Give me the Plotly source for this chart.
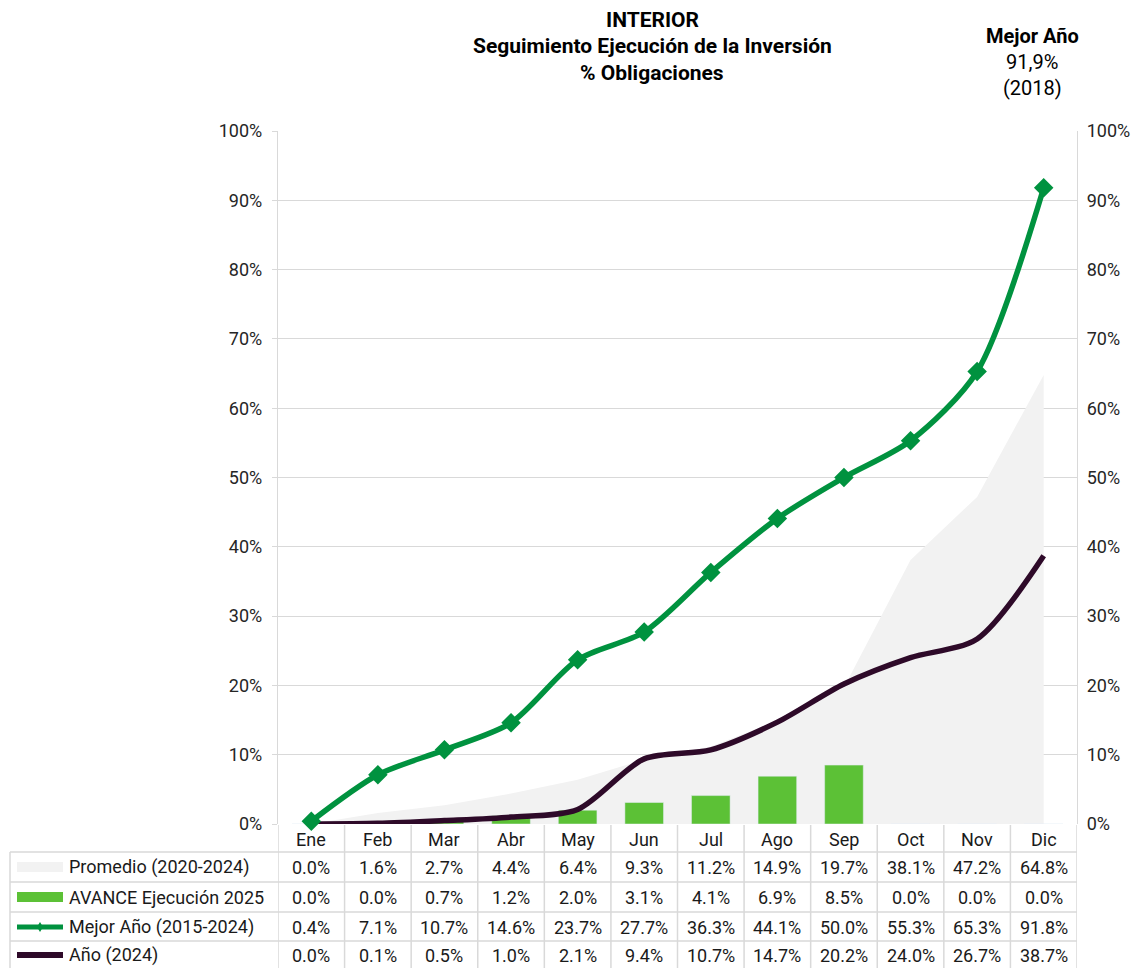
import plotly.graph_objects as go

months = ["Ene", "Feb", "Mar", "Abr", "May", "Jun", "Jul", "Ago", "Sep", "Oct", "Nov", "Dic"]
promedio = [0.0, 1.6, 2.7, 4.4, 6.4, 9.3, 11.2, 14.9, 19.7, 38.1, 47.2, 64.8]
avance = [0.0, 0.0, 0.7, 1.2, 2.0, 3.1, 4.1, 6.9, 8.5, 0.0, 0.0, 0.0]
mejor = [0.4, 7.1, 10.7, 14.6, 23.7, 27.7, 36.3, 44.1, 50.0, 55.3, 65.3, 91.8]
anio = [0.0, 0.1, 0.5, 1.0, 2.1, 9.4, 10.7, 14.7, 20.2, 24.0, 26.7, 38.7]
series_names = ["Promedio (2020-2024)", "AVANCE Ejecución 2025", "Mejor Año (2015-2024)", "Año (2024)"]
y_ticks = [0, 10, 20, 30, 40, 50, 60, 70, 80, 90, 100]

# page has an 8px body margin; keep the figure inside the window
OFF = 8
W, H = 1142 - 2 * OFF, 976 - 2 * OFF
L, R, T, B = 278, 1077, 131, 824   # plot area in page pixels
C_GRID = "#d9d9d9"
C_AREA = "#f2f2f2"
C_BAR = "#5cc136"
C_GREEN = "#00923f"
C_DARK = "#2e0a29"
FONT = "Roboto"

def px_x(p):
    return (p - L) / (R - L)

def px_y(p):
    return (B - p) / (B - T)

x = list(range(12))

fig = go.Figure()
fig.add_trace(go.Scatter(x=x, y=promedio, mode="lines", fill="tozeroy",
                         line=dict(width=0, color=C_AREA), fillcolor=C_AREA,
                         name=series_names[0], hoverinfo="skip"))
fig.add_trace(go.Bar(x=x, y=avance, marker_color=C_BAR, width=0.58, name=series_names[1], yaxis="y3"))
fig.add_trace(go.Scatter(x=x, y=anio, mode="lines", yaxis="y3",
                         line=dict(color=C_DARK, width=5.5, shape="spline", smoothing=0.8),
                         name=series_names[3], cliponaxis=False))
fig.add_trace(go.Scatter(x=x, y=mejor, mode="lines+markers", yaxis="y3",
                         line=dict(color=C_GREEN, width=5.5, shape="spline", smoothing=0.8),
                         marker=dict(symbol="diamond", size=15, color=C_GREEN),
                         name=series_names[2], cliponaxis=False))
# invisible trace for right axis
fig.add_trace(go.Scatter(x=[0], y=[0], yaxis="y2", mode="markers", marker=dict(opacity=0),
                         showlegend=False, hoverinfo="skip"))

tickfont = dict(family=FONT, size=18, color="#262626")
fig.update_layout(
    width=W, height=H,
    margin=dict(l=L - OFF, r=W - (R - OFF), t=T - OFF, b=H - (B - OFF)),
    plot_bgcolor="white", paper_bgcolor="white",
    showlegend=False,
    xaxis=dict(range=[-0.5, 11.5], showticklabels=False, showgrid=False, zeroline=False,
               tickvals=x, ticks="", automargin=False),
    yaxis=dict(range=[0, 100], tickvals=y_ticks, ticktext=[f"{v}%" for v in y_ticks],
               showgrid=True, gridcolor=C_GRID, gridwidth=1.3, zeroline=False,
               showline=True, linecolor=C_GRID, linewidth=1.3,
               ticks="outside", ticklen=5, tickcolor=C_GRID, tickfont=tickfont,
               ticklabelstandoff=6, automargin=False),
    yaxis2=dict(range=[0, 100], overlaying="y", side="right", tickvals=y_ticks,
                ticktext=[f"{v}%" for v in y_ticks], showgrid=False, zeroline=False,
                showline=True, linecolor=C_GRID, linewidth=1.3, ticks="",
                tickfont=tickfont, ticklabelstandoff=5, automargin=False),
    yaxis3=dict(range=[0, 100], overlaying="y", showgrid=False, zeroline=False,
                showticklabels=False, showline=False, ticks="", automargin=False),
)

shapes = []
annotations = []

# Titles
for txt, yy in [("INTERIOR", 20), ("Seguimiento Ejecución de la Inversión", 46), ("% Obligaciones", 73)]:
    annotations.append(dict(text=f"<b>{txt}</b>", x=px_x(652), y=px_y(yy), xref="paper", yref="paper",
                            showarrow=False, xanchor="center", yanchor="middle", borderpad=0,
                            font=dict(family=FONT, size=21, color="black")))
for txt, yy in [("<b>Mejor Año</b>", 36), ("91,9%", 62), ("(2018)", 88)]:
    annotations.append(dict(text=txt, x=px_x(1032), y=px_y(yy), xref="paper", yref="paper",
                            showarrow=False, xanchor="center", yanchor="middle",
                            font=dict(family=FONT, size=20, color="black")))

# Table grid (rows slightly compressed so the last row fits in the page)
row_lines = [852, 882, 912, 941]
for yl in row_lines:
    shapes.append(dict(type="line", xref="paper", yref="paper", x0=px_x(10), x1=px_x(R),
                       y0=px_y(yl), y1=px_y(yl), line=dict(color=C_GRID, width=1.5), layer="below"))
shapes.append(dict(type="line", xref="paper", yref="paper", x0=px_x(10), x1=px_x(10),
                   y0=px_y(852), y1=px_y(976), line=dict(color=C_GRID, width=1.5)))
for i in range(13):
    shapes.append(dict(type="line", xref="x", yref="paper", x0=i - 0.5, x1=i - 0.5,
                       y0=px_y(825), y1=px_y(976), line=dict(color=C_GRID, width=1.5)))

cell_font = dict(family=FONT, size=18, color="#1a1a1a")
# Month headers
for i, m in enumerate(months):
    annotations.append(dict(text=m, x=i, y=px_y(839), xref="x", yref="paper", showarrow=False,
                            xanchor="center", yanchor="middle", font=cell_font))

rows_y = [867, 897, 927, 955]
data_rows = [promedio, avance, mejor, anio]
for r, (vals, yy) in enumerate(zip(data_rows, rows_y)):
    for i, v in enumerate(vals):
        annotations.append(dict(text=f"{v:.1f}%", x=i, y=px_y(yy), xref="x", yref="paper",
                                showarrow=False, xanchor="center", yanchor="middle", font=cell_font))
    annotations.append(dict(text=series_names[r], x=px_x(67), y=px_y(yy), xref="paper", yref="paper",
                            showarrow=False, xanchor="left", yanchor="middle", font=cell_font))

# Legend keys
k0, k1 = px_x(17), px_x(63)
shapes.append(dict(type="rect", xref="paper", yref="paper", x0=k0, x1=k1,
                   y0=px_y(rows_y[0] - 5), y1=px_y(rows_y[0] + 5), fillcolor=C_AREA, line=dict(width=0)))
shapes.append(dict(type="rect", xref="paper", yref="paper", x0=k0, x1=k1,
                   y0=px_y(rows_y[1] - 5), y1=px_y(rows_y[1] + 5), fillcolor=C_BAR, line=dict(width=0)))
ym = rows_y[2]
shapes.append(dict(type="line", xref="paper", yref="paper", x0=k0, x1=k1,
                   y0=px_y(ym), y1=px_y(ym), line=dict(color=C_GREEN, width=5)))
shapes.append(dict(type="path", xref="paper", yref="paper",
                   path=f"M {px_x(40)},{px_y(ym - 5)} L {px_x(43)},{px_y(ym)} L {px_x(40)},{px_y(ym + 5)} L {px_x(37)},{px_y(ym)} Z",
                   fillcolor=C_GREEN, line=dict(width=0)))
shapes.append(dict(type="line", xref="paper", yref="paper", x0=k0, x1=k1,
                   y0=px_y(rows_y[3]), y1=px_y(rows_y[3]), line=dict(color=C_DARK, width=6)))

fig.update_layout(shapes=shapes, annotations=annotations)
fig.write_html("out.html")
